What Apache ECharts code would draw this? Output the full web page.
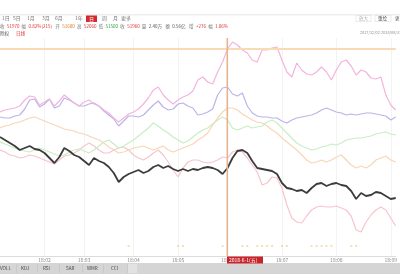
<!DOCTYPE html>
<html><head><meta charset="utf-8">
<script src="https://cdn.jsdelivr.net/npm/echarts@6/dist/echarts.min.js"></script>
<style>html,body{margin:0;padding:0;background:#fff}#c{width:400px;height:280px}</style>
</head><body><div id="c"></div>
<script>
// month tick labels and the category index where each month starts
const monthLabels = ['18:02','18:03','18:04','18:05','18:06','18:07','18:08','18:09'];
const monthStarts = [9,17,27,36,46,57,68,79];
const crossIndex = 46;
const crossLabel = '2018-6-1(五)';
// relative change (%) of each compared instrument
const mainSeries = [0.15,0,-0.15,-0.3,-0.5,-0.4,-0.3,-0.45,-0.5,-0.65,-0.9,-1.15,-0.85,-0.4,-0.55,-0.75,-0.85,-1.05,-1.25,-0.9,-1.05,-1.15,-1.35,-1.65,-2.1,-1.85,-1.7,-1.6,-1.5,-1.65,-1.55,-1.35,-1.25,-1.4,-1.3,-1.45,-1.55,-1.45,-1.55,-1.45,-1.5,-1.4,-1.35,-1.4,-1.5,-1.7,-1.4,-0.9,-0.55,-0.5,-0.65,-1.05,-1.4,-1.45,-1.5,-1.55,-1.7,-2.15,-2.4,-2.45,-2.55,-2.5,-2.65,-2.4,-2.2,-2.15,-2.3,-2.2,-2.15,-2.25,-2.3,-2.55,-2.95,-2.65,-2.8,-2.75,-2.6,-2.65,-2.8,-2.95,-2.9];
const pinkSeries = [1.4,1.5,1.55,1.6,1.7,2.0,2.2,2.15,1.75,1.9,2.05,1.7,1.95,2.25,2.05,1.85,1.7,1.9,2.0,1.8,1.7,1.5,1.35,1.1,0.9,1.1,1.3,1.4,1.55,1.8,2.1,2.5,2.65,2.25,2.0,1.8,2.0,2.15,2.25,2.45,3.0,3.15,2.9,2.8,3.4,3.9,4.55,4.9,4.75,4.5,4.35,4.0,3.9,4.5,4.5,4.6,4.65,4.0,3.4,3.15,3.85,3.5,3.3,3.25,3.4,3.65,3.4,3.0,3.5,3.9,4.0,3.7,3.25,3.5,3.4,3.1,3.05,3.15,2.25,1.75,1.5];
const lavenderSeries = [1.15,1.1,1.1,1.2,1.25,1.55,2.0,2.05,1.65,1.8,2.05,1.6,1.7,2.1,2.0,1.85,1.7,1.7,1.8,1.85,1.7,1.45,1.25,1.05,0.7,0.95,1.2,1.2,1.15,1.25,1.5,1.75,1.95,1.65,1.5,1.55,1.8,1.85,1.7,1.6,1.25,1.3,1.4,1.55,2.25,2.6,2.65,2.3,2.2,2.35,1.7,1.35,1.2,1.15,1.15,1.1,1.1,0.95,0.85,1.0,1.1,1.15,1.2,1.25,1.35,1.5,1.6,1.5,1.4,1.35,1.25,1.3,1.25,1.3,1.35,1.35,1.3,1.25,1.2,1.0,1.15];
const orangeSeries = [0.6,0.7,0.75,0.85,0.9,1.0,1.1,1.15,1.05,0.95,0.85,0.75,0.65,0.55,0.5,0.45,0.35,0.3,0.2,0.1,0,-0.15,-0.35,-0.5,-0.65,-0.6,-0.5,-0.4,-0.35,-0.3,-0.4,-0.5,-0.4,-0.3,-0.5,-0.6,-0.5,-0.4,-0.3,-0.2,0,0.15,0.35,0.75,1.1,1.4,1.6,1.6,1.5,1.3,1.15,1.0,0.9,0.85,0.7,0.5,0.35,0.1,-0.1,-0.3,-0.5,-0.75,-1.0,-1.15,-1.1,-1.0,-1.1,-1.0,-0.85,-0.75,-1.0,-1.25,-1.4,-1.3,-1.4,-1.25,-1.0,-0.9,-0.8,-1.0,-1.1];
const greenSeries = [-0.1,-0.2,-0.3,-0.4,-0.5,-0.55,-0.6,-0.5,-0.4,-0.5,-0.6,-0.7,-0.8,-0.75,-0.6,-0.5,-0.45,-0.55,-0.65,-0.5,-0.3,-0.1,0,-0.2,-0.4,-0.3,-0.15,0,0.2,0.4,0.6,0.85,0.7,0.5,0.35,0.15,0,-0.15,-0.05,0.15,0.35,0.5,0.6,0.8,1.0,1.15,1.0,0.6,0.5,0.6,0.7,0.6,0.65,0.7,0.9,1.0,0.85,0.6,0.35,0.1,-0.15,-0.3,-0.4,-0.5,-0.45,-0.35,-0.3,-0.2,-0.25,-0.15,0,0.05,0.1,0.1,0.15,0.2,0.3,0.35,0.4,0.3,0.25];
const redSeries = [-0.5,-0.6,-0.75,-0.8,-0.9,-0.85,-0.75,-0.8,-0.9,-1.0,-1.1,-1.2,-1.0,-0.8,-0.75,-0.65,-0.5,-0.3,-0.15,-0.3,-0.5,-0.65,-0.65,-0.5,-0.4,-0.35,-0.5,-0.75,-0.9,-1.0,-0.85,-0.65,-0.5,-0.75,-1.1,-1.5,-1.85,-1.4,-1.1,-1.0,-1.0,-1.1,-1.15,-1.1,-1.0,-0.85,-0.9,-0.6,-0.5,-0.6,-0.9,-1.25,-1.6,-2.25,-2.15,-1.85,-1.9,-2.4,-3.25,-3.9,-4.1,-4.15,-3.8,-3.5,-3.35,-3.3,-3.35,-3.35,-3.3,-3.4,-3.5,-3.8,-4.5,-4.6,-4.1,-3.75,-3.5,-3.35,-3.5,-3.9,-4.3];
// event markers along the bottom (category indexes)
const eventIdx = [26,36,37,45,49,50,52,53,54,55,57,58,63,64,65,66,67,71,72];
const eventLevel = -5.3;

const categories = mainSeries.map((_, i) => String(i));
const FONT = '"Noto Sans CJK SC", "Noto Sans", sans-serif';

function line(name, data, color, width, z) {
  return { name, type: 'line', data, symbol: 'none', smooth: false, z,
    lineStyle: { color, width }, silent: true, animation: false };
}
function txt(x, y, t, color, size, extra) {
  return Object.assign({ type: 'text', x, y, z: 50,
    style: { text: t, fill: color, fontSize: size || 5, fontFamily: FONT, verticalAlign: 'middle' } }, extra || {});
}

const chart = echarts.init(document.getElementById('c'), null, { renderer: 'canvas' });
chart.setOption({
  animation: false,
  backgroundColor: '#fff',
  grid: { left: 0, right: 0, top: 38, bottom: 24 },
  xAxis: {
    type: 'category', data: categories, boundaryGap: false,
    axisLine: { onZero: false, lineStyle: { color: '#dcdcdc' } },
    axisTick: { show: false },
    axisLabel: { interval: i => monthStarts.includes(i), formatter: (v, i) => {
      const k = monthStarts.indexOf(Number(v)); return k >= 0 ? monthLabels[k] : ''; },
      color: '#888', fontSize: 5, margin: 2, fontFamily: FONT },
    splitLine: { show: true, interval: i => monthStarts.includes(i) && i !== crossIndex, lineStyle: { color: '#f3f3f3', width: 1 } }
  },
  yAxis: { type: 'value', min: -5.8, max: 5.1, show: false, splitLine: { show: false } },
  series: [
    line('red', redSeries, '#f6c5cd', 1.2, 2),
    line('green', greenSeries, '#c8eec3', 1.2, 2),
    line('orange', orangeSeries, '#f8d6b6', 1.2, 2),
    line('lavender', lavenderSeries, '#bbb4e8', 1.2, 3),
    line('pink', pinkSeries, '#f3b4dd', 1.2, 3),
    line('main', mainSeries, '#3c3c3c', 1.8, 5),
    { name: 'events', type: 'scatter', symbol: 'rect', symbolSize: [2, 1.5], silent: true,
      itemStyle: { color: '#f1c98f' }, data: eventIdx.map(i => [i, eventLevel]), z: 4 }
  ]
});

// crosshair at the selected day, positioned through the chart's own scales
const [cx, cy] = chart.convertToPixel({ gridIndex: 0 }, [crossIndex, pinkSeries[crossIndex]]);
const gridRect = chart.getModel().getComponent('grid', 0).coordinateSystem.getRect();
const G = [];
G.push({ type: 'rect', shape: { x: gridRect.x, y: Math.round(cy) - 1, width: gridRect.width, height: 2 },
  style: { fill: '#f8dab6' }, z: 30, silent: true });
G.push({ type: 'rect', shape: { x: Math.round(cx) - 1.5, y: gridRect.y, width: 1.6, height: gridRect.height },
  style: { fill: '#e6b290' }, z: 30, silent: true });
// top toolbar
G.push({ type: 'rect', shape: { x: 0, y: 14.5, width: 400, height: 0.8 }, style: { fill: '#dcdcdc' }, z: 40 });
[['1日',2],['5日',13],['1月',27],['3月',42],['6月',55],['1年',75],['周',102],['月',113],['更多',121]]
  .forEach(([t, x]) => G.push(txt(x, 18.5, t, '#777', 5)));
G.push({ type: 'rect', shape: { x: 86, y: 15.5, width: 11, height: 6.5 }, style: { fill: '#d32a30' }, z: 45 });
G.push(txt(89, 18.7, '日', '#fff', 5));
G.push({ type: 'rect', shape: { x: 356, y: 15.5, width: 15, height: 6 }, style: { fill: '#fff', stroke: '#ddd', lineWidth: 0.6 }, z: 45 });
G.push(txt(359, 18.5, '放大', '#aaa', 4.5));
G.push({ type: 'rect', shape: { x: 375, y: 15.5, width: 16, height: 6 }, style: { fill: '#fff', stroke: '#ddd', lineWidth: 0.6 }, z: 45 });
G.push(txt(378, 18.5, '重绘', '#555', 4.5));
G.push(txt(395, 18.5, '更', '#555', 4.5));
// quote row
[['收 ','#777'],['51970 ','#d33'],['幅 ','#777'],['0.82%(215) ','#d33'],['开 ','#777'],['51600 ','#e07a20'],
 ['高 ','#777'],['52060 ','#d33'],['低 ','#777'],['51500 ','#2a9a3a'],['收 ','#777'],['51960 ','#d33'],
 ['量 ','#777'],['2.40万 ','#555'],['额 ','#777'],['0.56亿 ','#555'],['增 ','#777'],['+276 ','#d33'],['幅 ','#777'],['1.06%','#d33']]
  .reduce((x, [t, c]) => { G.push(txt(x, 26, t, c, 4.5)); return x + t.length * 2.45 + (/[^\x00-\x7f]/.test(t) ? 2.0 : 0); }, 0);
G.push(txt(0, 33, '除权', '#555', 4.6));
G.push(txt(16, 33, '日线', '#d33', 4.6));
G.push(txt(360, 33, '2017/12/02-2018/08/31', '#888', 3.8));
// crosshair date label
G.push({ type: 'rect', shape: { x: Math.round(cx) - 1, y: 256.5, width: 36, height: 7 }, style: { fill: '#c8242b' }, z: 60 });
G.push(txt(Math.round(cx) + 1, 260, crossLabel, '#fff', 5, { z: 61 }));
// bottom indicator tabs
G.push({ type: 'rect', shape: { x: 0, y: 263, width: 400, height: 11 }, style: { fill: '#d5d5d5' }, z: 40 });
G.push({ type: 'rect', shape: { x: 128, y: 264, width: 9, height: 9 }, style: { fill: '#e2e2e2' }, z: 41 });
[['VOLL',0],['KDJ',21],['RSI',43],['SAR',66],['WMR',87],['CCI',111]].forEach(([t, x]) => {
  G.push(txt(x, 268.5, t, '#444', 4.6));
  G.push({ type: 'rect', shape: { x: x + 16, y: 264, width: 0.6, height: 9 }, style: { fill: '#c2c2c2' }, z: 41 });
});
chart.setOption({ graphic: G });
</script></body></html>
